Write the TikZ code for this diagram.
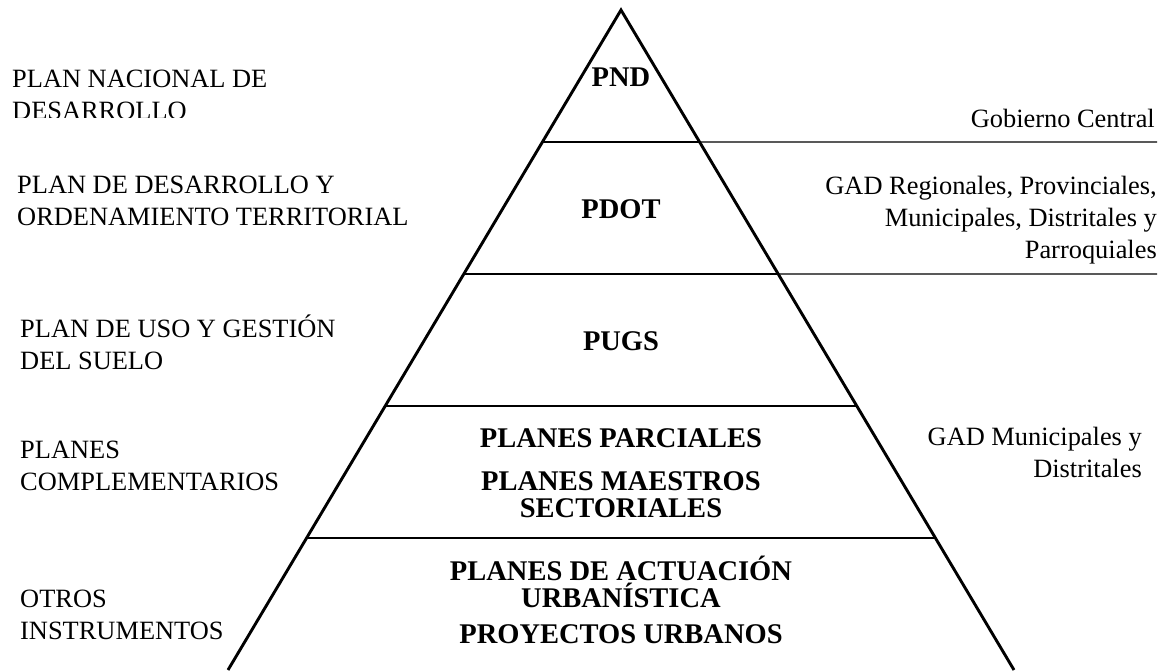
\documentclass[tikz,border=0pt]{standalone}
\usepackage{fontspec}
\setmainfont{Liberation Serif}
\usetikzlibrary{calc}
% multi-line text whose baseline is that of its first row
\newcommand\txtrows[2]{\begin{tabular}[t]{@{}#1@{}}#2\end{tabular}}
\begin{document}
\begin{tikzpicture}[x=1pt,y=-1pt,
  side/.style={line width=2.9pt, line join=miter},
  tier/.style={line width=2.9pt},
  leader/.style={line width=1.3pt},
  lefttxt/.style={anchor=base west, inner sep=0pt, font=\fontsize{26.4}{32}\selectfont},
  righttxt/.style={anchor=base east, inner sep=0pt, font=\fontsize{26.4}{32}\selectfont},
  leveltxt/.style={anchor=base, inner sep=0pt, font=\fontsize{28.5}{27.5}\selectfont\bfseries}]
\useasboundingbox (0,0) rectangle (1168,670);

% pyramid outline
\coordinate (apex) at (621,10);
\coordinate (bl) at (228,670);
\coordinate (br) at (1014,670);
\draw[side] (bl) -- (apex) -- (br);

% tier boundaries
\foreach \t [count=\i] in {0.2,0.4,0.6,0.8}{
  \coordinate (l\i) at ($(apex)!\t!(bl)$);
  \coordinate (r\i) at ($(apex)!\t!(br)$);
  \draw[tier] (l\i) -- (r\i);
}
% leader lines towards the governing bodies
\coordinate (e1) at (1157,142);
\coordinate (e2) at (1157,274);
\draw[leader] (r1) -- (e1);
\draw[leader] (r2) -- (e2);

% level names inside the pyramid
\node[leveltxt] (pnd) at (621,86) {PND};
\node[leveltxt] (pdot) at (621,218) {PDOT};
\node[leveltxt] (pugs) at (621,350) {PUGS};
\node[leveltxt] (parc) at (621,447) {PLANES PARCIALES};
\node[leveltxt] (maes) at (621,490) {\txtrows{c}{PLANES MAESTROS\\SECTORIALES}};
\node[leveltxt] (actu) at (621,580) {\txtrows{c}{PLANES DE ACTUACIÓN\\\smash{URBANÍSTICA}}};
\node[leveltxt] (proy) at (621,643) {PROYECTOS URBANOS};

% full names on the left
\begin{scope}
  \clip (0,0) rectangle (420,117);
  \node[lefttxt] (n-pnd) at (12,87) {\txtrows{l}{PLAN NACIONAL DE\\DESARROLLO}};
\end{scope}
\node[lefttxt] (n-pdot) at (17,193) {\txtrows{l}{PLAN DE DESARROLLO Y\\ORDENAMIENTO TERRITORIAL}};
\node[lefttxt] (n-pugs) at (20,337) {\txtrows{l}{PLAN DE USO Y GESTIÓN\\DEL SUELO}};
\node[lefttxt] (n-comp) at (20,458) {\txtrows{l}{PLANES\\COMPLEMENTARIOS}};
\node[lefttxt] (n-otro) at (20,607) {\txtrows{l}{OTROS\\INSTRUMENTOS}};

% responsible bodies on the right
\node[righttxt] (g-cen) at (1155,127) {Gobierno Central};
\node[righttxt] (g-gad) at (1157,194) {\txtrows{r}{GAD Regionales, Provinciales,\\Municipales, Distritales y\\Parroquiales}};
\node[righttxt] (g-mun) at (1142,445) {\txtrows{r}{GAD Municipales y\\Distritales}};
\end{tikzpicture}
\end{document}
